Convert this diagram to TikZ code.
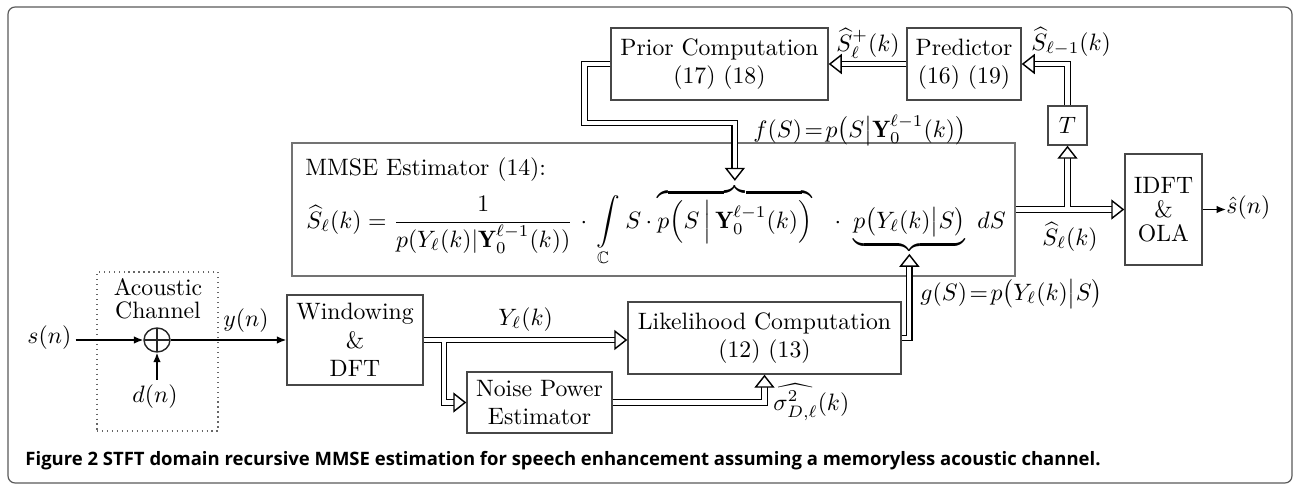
\documentclass[tikz,border=0pt]{standalone}
\usepackage{amsmath,amssymb}
\usepackage{fontspec}
\newfontfamily\capfont{Open Sans}
\usetikzlibrary{arrows.meta,calc,shapes.geometric}

% one drawing unit
\newdimen\px \px=0.4219pt

\begin{document}
\begin{tikzpicture}[x=0.4219pt, y=-0.4219pt,
  blk/.style={draw=black!72, line width=0.6pt, inner sep=0pt, align=center},
  sarr/.style={draw=black, line width=0.6pt, -{Latex[length=4pt, width=3.2pt]}},
  dbl/.style={draw=white, line width=0.6pt,
    -{Triangle[open, length=5.5pt, width=8.5pt, fill=white, color=black]},
    preaction={draw=black, line width=0.6pt, double=white, double distance=1.7pt, arrows=-, shorten >=3.5pt}},
  lbl/.style={inner sep=0pt},
]
\useasboundingbox (0,0) rectangle (1294,485);

% outer frame
\node[draw=black!65, line width=0.5pt, rounded corners=3pt, minimum width=1284\px, minimum height=476\px, inner sep=0pt] (frame) at (650,245) {};

% processing blocks
\node[blk, minimum width=217\px, minimum height=72\px] (prior) at (719.5,64) {Prior Computation\\(17) (18)};
\node[blk, minimum width=114\px, minimum height=72\px] (pred) at (964,64) {Predictor\\(16) (19)};
\node[blk, minimum width=39\px, minimum height=39\px] (tbox) at (1067.5,125.5) {$T$};
\node[draw=black!55, line width=0.8pt, inner sep=0pt, minimum width=723\px, minimum height=133\px] (mmse) at (653.5,209.5) {};
\node[blk, minimum width=77\px, minimum height=111\px] (idft) at (1163.5,209.5) {IDFT\\[-1.9pt]\&\\[-1.9pt]OLA};
\node[blk, minimum width=136\px, minimum height=90\px] (win) at (355,340) {Windowing\\\&\\DFT};
\node[blk, minimum width=145\px, minimum height=61\px] (noise) at (539.5,402.5) {Noise Power\\Estimator};
\node[blk, minimum width=273\px, minimum height=72\px] (lik) at (764.5,338) {Likelihood Computation\\(12) (13)};

% acoustic channel
\node[draw=black!60, dash pattern=on 0.5pt off 1.6pt, line width=0.6pt, inner sep=0pt, minimum width=121\px, minimum height=159\px] (chan) at (157.5,351.5) {};
\node[lbl, anchor=base] (chanA) at (158,295) {Acoustic};
\node[lbl, anchor=base] (chanB) at (158,318) {Channel};
\node[ellipse, draw=black!85, line width=0.6pt, inner sep=0pt, minimum width=26\px, minimum height=24\px,
  path picture={\draw[black!85, line width=0.5pt]
    (path picture bounding box.north) -- (path picture bounding box.south)
    (path picture bounding box.west) -- (path picture bounding box.east);}] (plus) at (157,340) {};

% MMSE estimator contents
\node[lbl, anchor=base west] (mmsetitle) at (305,175) {MMSE Estimator (14):};
\node[lbl, anchor=base west] (eql) at (306,228)
  {$\displaystyle \widehat{S}_\ell(k) = \frac{1}{p(Y_\ell(k)|\mathbf{Y}_0^{\ell-1}(k))}$};
\node[lbl, anchor=base] (dota) at (584,228) {$\cdot$};
\node[lbl, anchor=base west] (intg) at (596,228) {$\displaystyle\int\limits_{\mathbb{C}}$};
\node[lbl, anchor=base west] (svar) at (625,228) {$S$};
\node[lbl, anchor=base] (dotb) at (649,228) {$\cdot$};
\node[lbl, anchor=base west] (ob) at (657,228)
  {$\displaystyle\overbrace{p\Bigl(S\,\Big|\,\mathbf{Y}_0^{\ell-1}(k)\Bigr)}$};
\node[lbl, anchor=base] (dotc) at (838,228) {$\cdot$};
\node[lbl, anchor=base west] (ub) at (853,228)
  {$\displaystyle\underbrace{p\bigl(Y_\ell(k)\big|S\bigr)}$};
\node[lbl, anchor=base west] (ds) at (977,228) {$dS$};

% signal labels
\node[lbl, anchor=base west] (sn) at (27,343) {$s(n)$};
\node[lbl, anchor=base west] (dn) at (132,402) {$d(n)$};
\node[lbl, anchor=base west] (yn) at (223,326) {$y(n)$};
\node[lbl, anchor=base west] (shat) at (1226,213) {$\hat{s}(n)$};
\node[lbl, anchor=base west] (ylab) at (498,325) {$Y_\ell(k)$};
\node[lbl, anchor=base west] (siglab) at (773,410) {$\widehat{\sigma^2_{D,\ell}}(k)$};
\node[lbl, anchor=base west] (glab) at (920,300) {$g(S)\!=\!p\bigl(Y_\ell(k)\big|S\bigr)$};
\node[lbl, anchor=base west] (flab) at (753,137) {$f(S)\!=\!p\bigl(S\big|\mathbf{Y}_0^{\ell-1}(k)\bigr)$};
\node[lbl, anchor=base west] (splus) at (836,51) {$\widehat{S}^+_\ell(k)$};
\node[lbl, anchor=base west] (sprev) at (1031,50) {$\widehat{S}_{\ell-1}(k)$};
\node[lbl, anchor=base west] (scur) at (1042,245) {$\widehat{S}_\ell(k)$};

% helper points for the routed connectors
\coordinate (loopL) at (584.5,65);
\coordinate (loopB) at (584.5,123);
\coordinate (branchW) at (444,340);

% single-line signal paths
\draw[sarr] (sn.east |- plus.west) ++(4,0) -- (plus.west);
\draw[sarr] (dn.north -| plus.south) ++(0,-4) -- (plus.south);
\draw[sarr] (plus.east) -- (win.west);
\draw[sarr] (idft.east) -- (shat.west |- idft.east);

% double-line data paths
\draw[dbl] (win.east) -- (win.east -| lik.west);
\draw[dbl] ([yshift=-0.85pt]branchW) |- (noise.west);
\draw[dbl] (noise.east) -| (lik.south);
\draw[dbl] (lik.east) -| (ub.south);
\draw[dbl] (prior.west) -- (prior.west -| loopL) -- (loopB) -| ([yshift=1pt]ob.north);
\draw[dbl] (pred.west) -- (prior.east);
\draw[dbl] (tbox.north) |- (pred.east);
\draw[dbl] (mmse.east) -- (idft.west);
\draw[dbl] ([yshift=0.85pt]tbox.south |- mmse.east) -- (tbox.south);

% caption
\node[lbl, anchor=base west, font={\capfont\bfseries\fontsize{7.8pt}{9pt}\selectfont}] (cap) at (25,465)
  {Figure 2 STFT domain recursive MMSE estimation for speech enhancement assuming a memoryless acoustic channel.};
\end{tikzpicture}
\end{document}
